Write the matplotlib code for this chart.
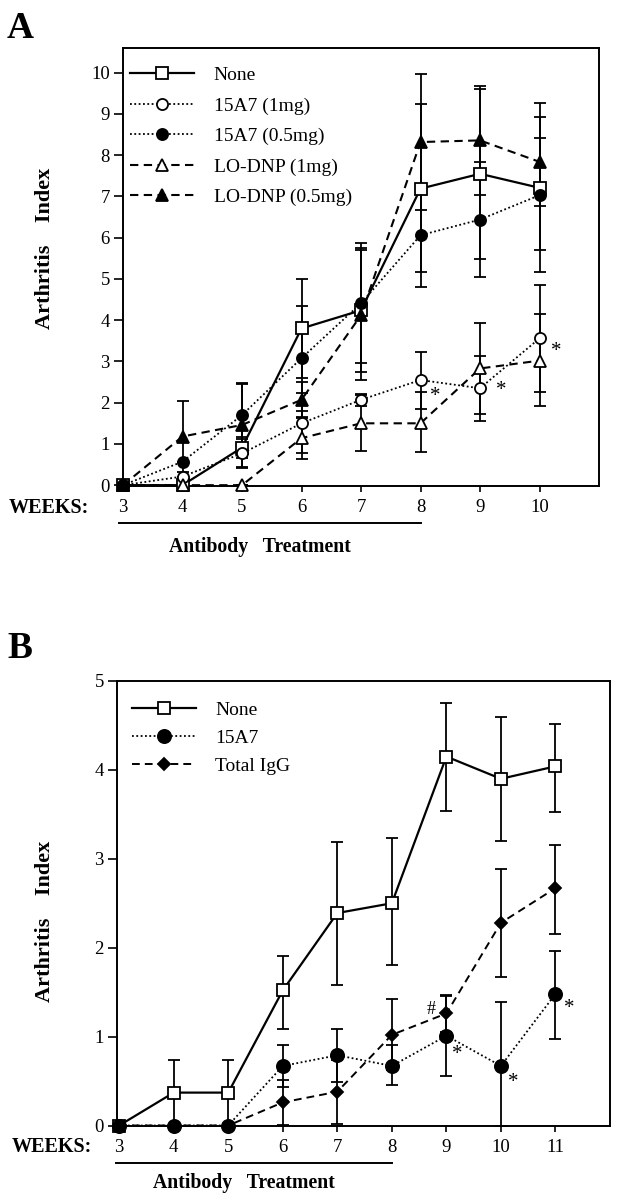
import matplotlib
matplotlib.use("Agg")
import matplotlib.pyplot as plt
from matplotlib.lines import Line2D
import matplotlib.transforms as mtransforms

plt.rcParams['font.family'] = ['Liberation Serif', 'DejaVu Serif']

# ---------------- Panel A data ----------------
weeks_a = [3, 4, 5, 6, 7, 8, 9, 10]
a_none = [0, 0, 0.91, 3.80, 4.24, 7.19, 7.55, 7.21]
a_none_lo = [0, 0, 0.25, 1.19, 1.50, 2.02, 2.06, 1.51]
a_none_hi = [0, 0, 0.25, 1.19, 1.50, 2.06, 2.06, 1.21]

a_15a7_1 = [0, 0.21, 0.77, 1.50, 2.07, 2.55, 2.35, 3.56]
a_15a7_1_lo = [0, 0, 0.35, 0.73, 0.15, 0.70, 0.80, 1.31]
a_15a7_1_hi = [0, 0, 0.35, 0.73, 0.15, 0.67, 0.79, 1.29]

a_15a7_05 = [0, 0.57, 1.70, 3.08, 4.41, 6.06, 6.44, 7.03]
a_15a7_05_lo = [0, 0, 0.75, 1.27, 1.45, 1.25, 1.40, 1.86]
a_15a7_05_hi = [0, 0, 0.75, 1.27, 1.45, 1.25, 1.40, 1.90]

a_lo_1 = [0, 0, 0, 1.14, 1.50, 1.50, 2.83, 3.02]
a_lo_1_lo = [0, 0, 0, 0.50, 0.66, 0.70, 1.11, 1.09]
a_lo_1_hi = [0, 0, 0, 0.50, 0.68, 0.77, 1.11, 1.12]

a_lo_05 = [0, 1.18, 1.46, 2.07, 4.12, 8.32, 8.36, 7.84]
a_lo_05_lo = [0, 0.86, 1.02, 0.42, 1.58, 1.65, 1.33, 1.07]
a_lo_05_hi = [0, 0.86, 1.02, 0.42, 1.58, 1.64, 1.33, 1.43]

labels_a = ["None", "15A7 (1mg)", "15A7 (0.5mg)", "LO-DNP (1mg)", "LO-DNP (0.5mg)"]
ticks_a = [0, 1, 2, 3, 4, 5, 6, 7, 8, 9, 10]

# ---------------- Panel B data ----------------
weeks_b = [3, 4, 5, 6, 7, 8, 9, 10, 11]
b_none = [0, 0.37, 0.37, 1.52, 2.39, 2.50, 4.15, 3.90, 4.04]
b_none_lo = [0, 0.37, 0.37, 0.43, 0.81, 0.69, 0.61, 0.70, 0.51]
b_none_hi = [0, 0.37, 0.37, 0.39, 0.80, 0.73, 0.60, 0.69, 0.48]

b_15a7 = [0, 0, 0, 0.67, 0.79, 0.67, 1.01, 0.67, 1.48]
b_15a7_lo = [0, 0, 0, 0.24, 0.30, 0.22, 0.45, 0.67, 0.51]
b_15a7_hi = [0, 0, 0, 0.24, 0.30, 0.23, 0.45, 0.72, 0.48]

b_igg = [0, 0, 0, 0.26, 0.38, 1.02, 1.26, 2.28, 2.67]
b_igg_lo = [0, 0, 0, 0.25, 0.36, 0.40, 0.21, 0.61, 0.52]
b_igg_hi = [0, 0, 0, 0.25, 0.36, 0.40, 0.21, 0.60, 0.48]

labels_b = ["None", "15A7", "Total IgG"]
ticks_b = [0, 1, 2, 3, 4, 5]

treat_start, treat_end = 3, 8

W, H = 618, 1199
fig = plt.figure(figsize=(W / 100, H / 100), dpi=100)


def px_axes(l, r, t, b):
    return fig.add_axes([l / W, 1 - b / H, (r - l) / W, (b - t) / H])


DOT = (0, (1, 1.4))
DASH = (0, (4, 2.6))
TS = 13.5
LS = 14


def series(ax, x, y, lo, hi, ls, marker, mfc, ms, lw):
    ax.errorbar(x, y, yerr=[lo, hi], fmt='none', ecolor='black', elinewidth=1.3,
                capsize=4.2, capthick=1.3, zorder=2, clip_on=False)
    ax.plot(x, y, color='black', linestyle=ls, lw=lw, zorder=3, clip_on=False)
    ax.plot(x, y, linestyle='none', marker=marker, ms=ms, mfc=mfc, mec='black',
            mew=1.3, zorder=4, clip_on=False)
    return Line2D([], [], color='black', linestyle=ls, lw=lw, marker=marker,
                  ms=ms, mfc=mfc, mec='black', mew=1.3)


def style_axes(ax):
    for s in ax.spines.values():
        s.set_linewidth(1.4)
    ax.tick_params(axis='both', direction='out', width=1.2, labelsize=TS)
    ax.tick_params(axis='y', length=6.5, pad=3)
    ax.tick_params(axis='x', length=4.5, pad=5)


# ================= Panel A =================
axA = px_axes(123, 599, 48, 486)
hA = []
hA.append(series(axA, weeks_a, a_none, a_none_lo, a_none_hi, '-', 's', 'white', 8, 1.6))
hA.append(series(axA, weeks_a, a_15a7_1, a_15a7_1_lo, a_15a7_1_hi, DOT, 'o', 'white', 8, 1.3))
hA.append(series(axA, weeks_a, a_15a7_05, a_15a7_05_lo, a_15a7_05_hi, DOT, 'o', 'black', 8, 1.3))
hA.append(series(axA, weeks_a, a_lo_1, a_lo_1_lo, a_lo_1_hi, DASH, '^', 'white', 8, 1.5))
hA.append(series(axA, weeks_a, a_lo_05, a_lo_05_lo, a_lo_05_hi, DASH, '^', 'black', 8, 1.5))
axA.set_xlim(3, 11)
axA.set_ylim(-0.02, 10.6)
axA.set_xticks(weeks_a)
axA.set_yticks(ticks_a)
style_axes(axA)
axA.legend(hA, labels_a, loc='upper left', bbox_to_anchor=(0.015, 0.958),
           frameon=False, fontsize=LS, handlelength=3.3, handletextpad=1.0,
           labelspacing=0.66, borderaxespad=0, borderpad=0)
axA.set_ylabel("Arthritis    Index", fontsize=16, fontweight='bold')
axA.yaxis.set_label_coords(-0.143, 0.543)
for (xw, yv) in [(8.25, 2.15), (9.35, 2.3), (10.28, 3.25)]:
    axA.text(xw, yv, "*", fontsize=15, ha='center', va='center')
trA = mtransforms.blended_transform_factory(axA.transData, axA.transAxes)
axA.plot([treat_start - 0.07, treat_end], [-0.085, -0.085], color='black', lw=1.4,
         transform=trA, clip_on=False)
fig.text(89 / W, 1 - 508 / H, "WEEKS:", fontsize=14.5, fontweight='bold', ha='right', va='center')
fig.text(260 / W, 1 - 547 / H, "Antibody   Treatment", fontsize=14.2, fontweight='bold',
         ha='center', va='center')
fig.text(7 / W, 1 - 38 / H, "A", fontsize=27, fontweight='bold', ha='left', va='baseline')

# ================= Panel B =================
axB = px_axes(117, 610, 681, 1125.5)
hB = []
hB.append(series(axB, weeks_b, b_none, b_none_lo, b_none_hi, '-', 's', 'white', 9, 1.6))
hB.append(series(axB, weeks_b, b_15a7, b_15a7_lo, b_15a7_hi, DOT, 'o', 'black', 9.5, 1.3))
hB.append(series(axB, weeks_b, b_igg, b_igg_lo, b_igg_hi, DASH, 'D', 'black', 6.5, 1.4))
axB.set_xlim(2.96, 12.0)
axB.set_ylim(0, 5)
axB.set_xticks(weeks_b)
axB.set_yticks(ticks_b)
style_axes(axB)
axB.legend(hB, labels_b, loc='upper left', bbox_to_anchor=(0.03, 0.954),
           frameon=False, fontsize=LS, handlelength=3.3, handletextpad=1.0,
           labelspacing=0.52, borderaxespad=0, borderpad=0)
axB.set_ylabel("Arthritis    Index", fontsize=16, fontweight='bold')
axB.yaxis.set_label_coords(-0.126, 0.46)
axB.text(8.72, 1.31, "#", fontsize=13, ha='center', va='center')
for (xw, yv) in [(9.2, 0.8), (10.23, 0.48), (11.26, 1.32)]:
    axB.text(xw, yv, "*", fontsize=15, ha='center', va='center')
trB = mtransforms.blended_transform_factory(axB.transData, axB.transAxes)
axB.plot([treat_start - 0.05, treat_end], [-0.085, -0.085], color='black', lw=1.4,
         transform=trB, clip_on=False)
fig.text(92 / W, 1 - 1147 / H, "WEEKS:", fontsize=14.5, fontweight='bold', ha='right', va='center')
fig.text(244 / W, 1 - 1183 / H, "Antibody   Treatment", fontsize=14.2, fontweight='bold',
         ha='center', va='center')
fig.text(7 / W, 1 - 658 / H, "B", fontsize=27, fontweight='bold', ha='left', va='baseline')

fig.savefig("out.png", dpi=100)
